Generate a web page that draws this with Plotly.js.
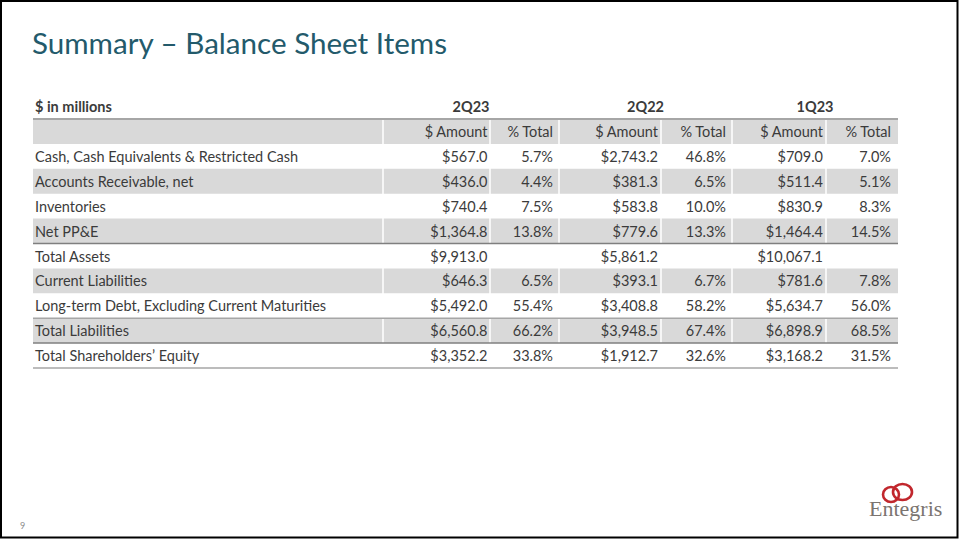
<!DOCTYPE html>
<html>
<head>
<meta charset="utf-8">
<script src="https://cdn.plot.ly/plotly-3.0.1.min.js"></script>
<style>html,body{margin:0;padding:0;background:#fff;}#chart{width:960px;height:540px;}</style>
</head>
<body>
<div id="chart"></div>
<script>
// ---- data ----
const titleText = "Summary – Balance Sheet Items";
const unitLabel = "$ in millions";
const periods = ["2Q23", "2Q22", "1Q23"];
const subHeads = ["$ Amount", "% Total"];
const items = [
  "Cash, Cash Equivalents & Restricted Cash",
  "Accounts Receivable, net",
  "Inventories",
  "Net PP&E",
  "Total Assets",
  "Current Liabilities",
  "Long-term Debt, Excluding Current Maturities",
  "Total Liabilities",
  "Total Shareholders’ Equity"
];
const amt2Q23 = [567.0, 436.0, 740.4, 1364.8, 9913.0, 646.3, 5492.0, 6560.8, 3352.2];
const pct2Q23 = [5.7, 4.4, 7.5, 13.8, null, 6.5, 55.4, 66.2, 33.8];
const amt2Q22 = [2743.2, 381.3, 583.8, 779.6, 5861.2, 393.1, 3408.8, 3948.5, 1912.7];
const pct2Q22 = [46.8, 6.5, 10.0, 13.3, null, 6.7, 58.2, 67.4, 32.6];
const amt1Q23 = [709.0, 511.4, 830.9, 1464.4, 10067.1, 781.6, 5634.7, 6898.9, 3168.2];
const pct1Q23 = [7.0, 5.1, 8.3, 14.5, null, 7.8, 56.0, 68.5, 31.5];
const pageNum = "9";
const logoText = "Entegris";

// ---- formatting helpers ----
const fmtAmt = v => "$" + v.toLocaleString("en-US", {minimumFractionDigits: 1, maximumFractionDigits: 1});
const fmtPct = v => (v === null ? "" : v.toFixed(1) + "%");

// ---- layout geometry (pixels) ----
const W = 960, H = 540;
const px = x => x / W;
const py = y => 1 - y / H;
const colEdges = [33, 383, 490, 559, 661, 732, 826, 898];   // cell boundaries
const textRight = [487.5, 553, 658, 726, 823, 891];          // right-aligned text ends
const labelX = 35;
const bodyTop = 121;       // first body row top (text reference)
const rowH = 24.9;
const bandOff = 2 / rowH;
// y axis: row index -> pixel; index 0 is the sub-header row, -1 is the period header
const yAt = pix => (pix - bodyTop) / rowH - 0.5;

const textColor = "#3b3b3b";
const font = "Lato, 'Open Sans', sans-serif";
const fs = 14.5;

const rowIdx = items.map((_, i) => i + 1);
const valueCols = [amt2Q23, pct2Q23, amt2Q22, pct2Q22, amt1Q23, pct1Q23];
const traces = [];

// item labels
traces.push({type: "scatter", mode: "text", x: items.map(() => labelX), y: rowIdx,
  text: items, textposition: "middle right", hoverinfo: "skip",
  textfont: {family: font, size: fs, color: textColor}});
// values
valueCols.forEach((arr, c) => {
  const isPct = c % 2 === 1;
  traces.push({type: "scatter", mode: "text", x: arr.map(() => textRight[c]), y: rowIdx,
    text: arr.map(isPct ? fmtPct : fmtAmt), textposition: "middle left", hoverinfo: "skip",
    textfont: {family: font, size: fs, color: textColor}});
});
// sub-header row
traces.push({type: "scatter", mode: "text", x: textRight, y: textRight.map(() => 0),
  text: textRight.map((_, c) => subHeads[c % 2]), textposition: "middle left", hoverinfo: "skip",
  textfont: {family: font, size: fs, color: textColor}});
// period header row
traces.push({type: "scatter", mode: "text",
  x: periods.map((_, k) => (colEdges[1 + 2 * k] + colEdges[3 + 2 * k]) / 2),
  y: periods.map(() => -1), text: periods.map(p => "<b>" + p + "</b>"),
  textposition: "middle center", hoverinfo: "skip",
  textfont: {family: font, size: fs, color: textColor}});
traces.push({type: "scatter", mode: "text", x: [labelX], y: [-1],
  text: ["<b>" + unitLabel + "</b>"], textposition: "middle right", hoverinfo: "skip",
  textfont: {family: font, size: fs, color: textColor}});

// ---- shapes ----
const shapes = [];
const nBody = items.length + 1;
const L = colEdges[0], R = colEdges[colEdges.length - 1];
for (let i = 0; i < nBody; i += 2) {
  shapes.push({type: "rect", xref: "x", yref: "y", layer: "below",
    x0: L, x1: R, y0: i - 0.5 - bandOff, y1: i + 0.5 - bandOff,
    fillcolor: "#d9d9d9", line: {width: 0}});
}
colEdges.slice(1, -1).forEach(e => shapes.push({type: "line", xref: "x", yref: "y", layer: "below",
  x0: e, x1: e, y0: -0.5 - bandOff, y1: nBody - 0.5 - bandOff, line: {color: "#ffffff", width: 1.5}}));
const rules = [
  {after: -1, c: "#a6a6a6", w: 2},
  {after: 4, c: "#7f7f7f", w: 1.5},
  {after: 7, c: "#a6a6a6", w: 1.5},
  {after: 8, c: "#7f7f7f", w: 1.5},
  {after: 9, c: "#a6a6a6", w: 1.5}
];
rules.forEach(r => shapes.push({type: "line", xref: "x", yref: "y", layer: "above",
  x0: L, x1: R, y0: r.after + 0.5 - bandOff, y1: r.after + 0.5 - bandOff,
  line: {color: r.c, width: r.w}}));
// slide frame
shapes.push({type: "rect", xref: "paper", yref: "paper", layer: "above",
  x0: px(1), x1: px(957.5), y0: py(1), y1: py(537.5), line: {color: "#000000", width: 2}});
// logo rings
shapes.push({type: "circle", xref: "paper", yref: "paper", layer: "above",
  x0: px(883), x1: px(899), y0: py(502), y1: py(487), line: {color: "#c1272d", width: 2.6}});
shapes.push({type: "circle", xref: "paper", yref: "paper", layer: "above",
  x0: px(893), x1: px(912), y0: py(500), y1: py(484), line: {color: "#c1272d", width: 2.6}});

const annotations = [
  {xref: "paper", yref: "paper", x: px(905), y: py(508), xanchor: "center", yanchor: "middle",
    showarrow: false, text: logoText,
    font: {family: "'Liberation Serif', 'DejaVu Serif', serif", size: 22, color: "#7b7470"}},
  {xref: "paper", yref: "paper", x: px(22), y: py(525), xanchor: "center", yanchor: "middle",
    showarrow: false, text: pageNum, font: {family: font, size: 9, color: "#8c8c8c"}}
];

const layout = {
  width: W, height: H,
  margin: {l: 0, r: 0, t: 0, b: 0},
  paper_bgcolor: "#ffffff", plot_bgcolor: "rgba(0,0,0,0)",
  title: {text: titleText, x: px(32), xanchor: "left", y: py(44), yanchor: "middle",
    font: {family: font, size: 29.6, color: "#235a6b"}},
  xaxis: {range: [0, W], visible: false, fixedrange: true},
  yaxis: {range: [yAt(H), yAt(0)], visible: false, fixedrange: true},
  shapes: shapes,
  annotations: annotations,
  showlegend: false
};

Plotly.newPlot("chart", traces, layout, {displayModeBar: false, staticPlot: true});
</script>
</body>
</html>
